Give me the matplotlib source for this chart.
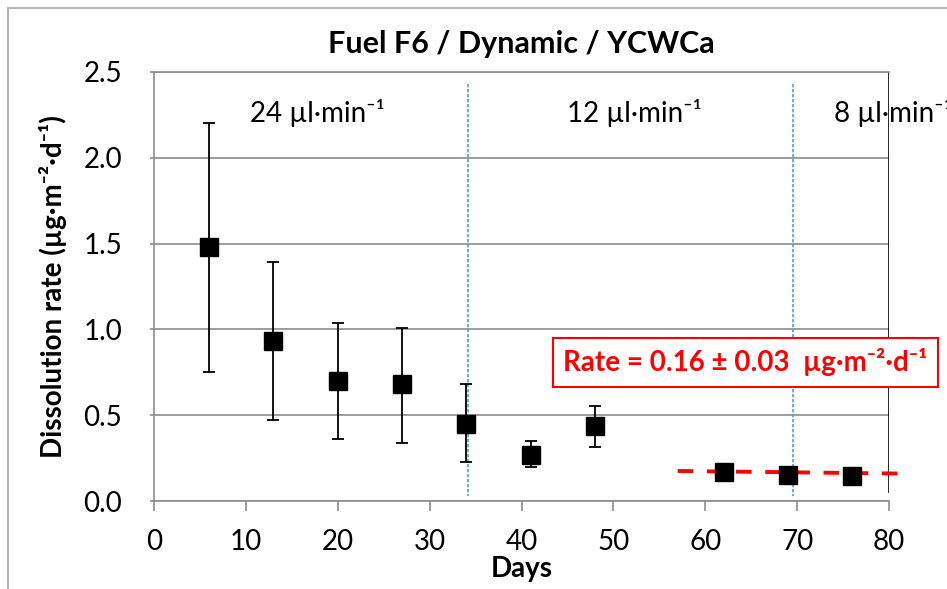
import matplotlib
matplotlib.use('Agg')
import matplotlib.pyplot as plt
from matplotlib.patches import Rectangle

# data
days = [6, 13, 20, 27, 34, 41, 48, 62, 69, 76]
rate = [1.48, 0.93, 0.70, 0.68, 0.45, 0.27, 0.435, 0.17, 0.15, 0.145]
err_low = [0.73, 0.46, 0.34, 0.34, 0.22, 0.07, 0.12, 0.0, 0.0, 0.0]
err_high = [0.72, 0.46, 0.34, 0.33, 0.23, 0.08, 0.12, 0.0, 0.0, 0.0]
fit_days = [57, 81]
fit_rate = [0.175, 0.16]
flow_change_days = [34.2, 69.5]
flow_labels = ['24 µl·min⁻¹', '12 µl·min⁻¹', '8 µl·min⁻¹']
flow_label_pos = [(17.8, 2.26), (52.3, 2.26), (74.0, 2.26)]
x_ticks = [0, 10, 20, 30, 40, 50, 60, 70, 80]
y_ticks = [0.0, 0.5, 1.0, 1.5, 2.0, 2.5]

plt.rcParams['font.family'] = ['Lato', 'DejaVu Sans']

fig = plt.figure(figsize=(9.47, 5.89), dpi=100)
ax = fig.add_axes([0.1626, 0.1494, 0.7762, 0.7284])

# outer chart border
fig.patches.append(Rectangle((8 / 947, -0.05), 1.2, 1 - 8 / 589 + 0.05,
                             transform=fig.transFigure, fill=False,
                             edgecolor='#a6a6a6', linewidth=1.2))

ax.set_xlim(0, 80)
ax.set_ylim(0, 2.5)
ax.set_xticks(x_ticks)
ax.set_yticks(y_ticks)
ax.set_yticklabels([f'{v:.1f}' for v in y_ticks])
ax.yaxis.grid(True, color='#8c8c8c', linewidth=1.2)
ax.set_axisbelow(True)
for side in ['left', 'bottom', 'top']:
    ax.spines[side].set_color('#8c8c8c')
    ax.spines[side].set_linewidth(1.2)
ax.spines['right'].set_visible(False)
ax.axvline(80, ymin=0.02, ymax=1, color='black', linewidth=1.2)
ax.tick_params(axis='x', direction='out', length=7, width=1.2,
               color='#8c8c8c', labelsize=20, pad=13)
ax.tick_params(axis='y', direction='out', length=3, width=1.2,
               color='#8c8c8c', labelsize=20, pad=20)

ax.set_title('Fuel F6 / Dynamic / YCWCa', fontsize=22, fontweight='bold', pad=14)
ax.set_xlabel('Days', fontsize=20, fontweight='bold', labelpad=1)
ax.set_ylabel('Dissolution rate (µg·m⁻²·d⁻¹)',
              fontsize=20, fontweight='bold', labelpad=12)

for xv in flow_change_days:
    ax.plot([xv, xv], [2.43, 0.03], color='#5b9bd5', linewidth=1.2,
            linestyle=(0, (2, 1)), clip_on=False)

for label, (xv, yv) in zip(flow_labels, flow_label_pos):
    ax.text(xv, yv, label, fontsize=20, ha='center' if xv < 70 else 'left',
            va='center', clip_on=False)

ax.plot(fit_days, fit_rate, color='#ff0000', linewidth=2.8,
        dashes=(4, 3.5), clip_on=False, zorder=4)

ax.errorbar(days, rate, yerr=[err_low, err_high], fmt='s', color='black',
            markersize=13, ecolor='black', elinewidth=1.3, capsize=4,
            capthick=1.3, zorder=5)

fig.text(0.787, 0.385, 'Rate = 0.16 ± 0.03  µg·m⁻²·d⁻¹',
         color='#ff0000', fontsize=20, fontweight='bold', ha='center', va='center',
         bbox=dict(boxstyle='square,pad=0.38', facecolor='white',
                   edgecolor='#ff0000', linewidth=1.5))

fig.savefig('out.png', dpi=100)
